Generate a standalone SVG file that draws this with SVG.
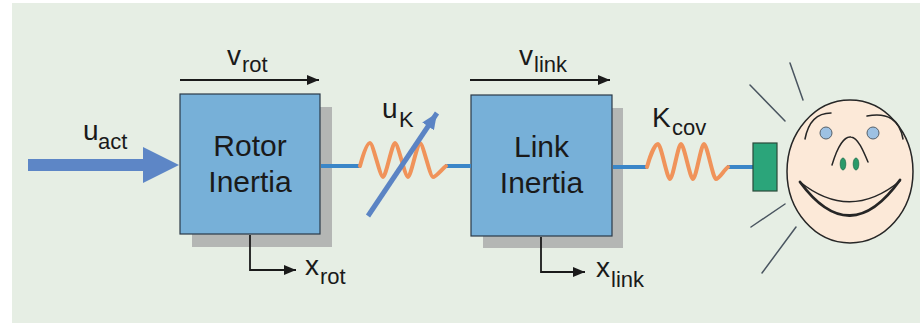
<svg xmlns="http://www.w3.org/2000/svg" width="920" height="323" viewBox="0 0 920 323">
  <style>
    .lbl { font-family: "Liberation Sans", Arial, sans-serif; fill: #1a1a1a; }
    .main { font-size: 28px; }
    .sub { font-size: 22px; }
    .blk { font-family: "Liberation Sans", Arial, sans-serif; font-size: 30px; fill: #1a1a1a; text-anchor: middle; }
    .box { fill: #77b0d8; stroke: #2b3a48; stroke-width: 1.2; }
    .shadow { fill: #b4b6b4; }
    .sig { fill: none; stroke: #1a1a1a; stroke-width: 1.8; marker-end: url(#tip); }
    .shaft { stroke: #3a86c8; stroke-width: 4; }
    .spring { fill: none; stroke: #f0935a; stroke-width: 4; stroke-linejoin: round; stroke-linecap: round; }
    .ray { stroke: #4a5560; stroke-width: 1.5; stroke-linecap: round; }
    .face { fill: none; stroke: #262626; stroke-linecap: round; }
  </style>
  <defs>
    <marker id="tip" viewBox="0 0 12 10" refX="12" refY="5" markerWidth="12" markerHeight="10" markerUnits="userSpaceOnUse" orient="auto">
      <path d="M0,0 L12,5 L0,10 z" fill="#1a1a1a"/>
    </marker>
    <marker id="tipBlue" viewBox="0 0 16 14" refX="16" refY="7" markerWidth="16" markerHeight="14" markerUnits="userSpaceOnUse" orient="auto">
      <path d="M0,0 L16,7 L0,14 z" fill="#5b84c4"/>
    </marker>
  </defs>

  <!-- backdrop -->
  <rect x="0" y="0" width="920" height="323" fill="#ffffff"/>
  <rect x="12" y="3" width="908" height="320" fill="#e6eee4"/>

  <!-- actuator input -->
  <g id="input">
    <polygon points="28,159 143,159 143,147 179,165 143,183 143,171 28,171" fill="#5d86c6"/>
    <text class="lbl"><tspan class="main" x="83" y="140">u</tspan><tspan class="sub" x="98" y="149">act</tspan></text>
  </g>

  <!-- rotor inertia -->
  <g id="rotor">
    <rect class="shadow" x="192" y="107" width="140" height="140"/>
    <rect class="box" x="180" y="94" width="140" height="140"/>
    <text class="blk" x="250" y="156">Rotor</text>
    <text class="blk" x="250" y="192">Inertia</text>
  </g>

  <!-- link inertia -->
  <g id="link">
    <rect class="shadow" x="483" y="108" width="140" height="140"/>
    <rect class="box" x="471" y="95" width="141" height="141"/>
    <text class="blk" x="541.5" y="157">Link</text>
    <text class="blk" x="541.5" y="193">Inertia</text>
  </g>

  <!-- connectors: shafts, springs, signal arrows -->
  <g id="connectors">
    <line class="shaft" x1="321" y1="166" x2="361" y2="166"/>
    <line class="shaft" x1="445" y1="166" x2="471" y2="166"/>
    <line class="shaft" x1="613" y1="167" x2="648" y2="167"/>
    <line class="shaft" x1="727" y1="167" x2="753" y2="167"/>

    <!-- variable joint stiffness -->
    <path class="spring" d="M360,166 C363,155 367,143 370,143 C373,143 380,177 383,177 C386,177 392,143 395,143 C398,143 405,177 408,177 C411,177 417,143 420,143 C423,143 430,177 433,177 C436,177 442,169 446,166"/>
    <line x1="368" y1="216" x2="437" y2="113" stroke="#5b84c4" stroke-width="5" marker-end="url(#tipBlue)"/>

    <!-- covering stiffness -->
    <path class="spring" d="M647,167 C650,156 655,144 658,144 C661,144 667,179 670,179 C673,179 678,144 681,144 C684,144 690,179 693,179 C696,179 701,144 704,144 C707,144 713,179 716,179 C719,179 724,170 728,167"/>

    <line class="sig" x1="180" y1="80" x2="319" y2="80"/>
    <line class="sig" x1="470" y1="80" x2="610" y2="80"/>
    <polyline class="sig" points="250,235 250,270 296,270"/>
    <polyline class="sig" points="541,237 541,272 585,272"/>
  </g>

  <!-- labels -->
  <g id="labels">
    <text class="lbl"><tspan class="main" x="227" y="65">v</tspan><tspan class="sub" x="242" y="72">rot</tspan></text>
    <text class="lbl"><tspan class="main" x="519" y="65">v</tspan><tspan class="sub" x="534" y="72">link</tspan></text>
    <text class="lbl"><tspan class="main" x="382" y="118">u</tspan><tspan class="sub" x="399" y="127">K</tspan></text>
    <text class="lbl"><tspan class="main" x="652" y="127">K</tspan><tspan class="sub" x="672" y="135">cov</tspan></text>
    <text class="lbl"><tspan class="main" x="305" y="275">x</tspan><tspan class="sub" x="320" y="284">rot</tspan></text>
    <text class="lbl"><tspan class="main" x="596" y="277">x</tspan><tspan class="sub" x="611" y="287">link</tspan></text>
  </g>

  <!-- contact pad -->
  <g id="pad">
    <rect x="753" y="143" width="24" height="48" fill="#2ba57a" stroke="#2a4a3a" stroke-width="1.2"/>
  </g>

  <!-- impact rays -->
  <g id="rays">
    <line class="ray" x1="790" y1="63" x2="803" y2="100"/>
    <line class="ray" x1="750" y1="85" x2="785" y2="121"/>
    <line class="ray" x1="751" y1="227" x2="785" y2="204"/>
    <line class="ray" x1="762" y1="273" x2="796" y2="227"/>
  </g>

  <!-- human face -->
  <g id="human">
    <ellipse cx="850" cy="171.5" rx="63" ry="71.5" fill="#fce9d8" stroke="#262626" stroke-width="1.5"/>
    <path class="face" stroke-width="1.5" d="M805,139 Q810,113 831,113"/>
    <path class="face" stroke-width="1.5" d="M867,116 Q898,110 903,139"/>
    <circle cx="826" cy="133" r="6" fill="#9dc1e3" stroke="#55606a" stroke-width="1"/>
    <circle cx="873" cy="133" r="6" fill="#9dc1e3" stroke="#55606a" stroke-width="1"/>
    <path class="face" stroke-width="1.5" d="M832,165 C838,145 845,136 851,137 C858,138 863,150 868,162"/>
    <ellipse cx="843" cy="164" rx="2.8" ry="6" fill="#2a9a6a" stroke="#1f6e4c" stroke-width="0.8"/>
    <ellipse cx="856" cy="164" rx="2.8" ry="6" fill="#2a9a6a" stroke="#1f6e4c" stroke-width="0.8"/>
    <path class="face" stroke-width="1.5" d="M800,182 Q850,222 900,181"/>
    <path class="face" stroke-width="2.8" d="M800,182 Q850,250 900,180"/>
  </g>
</svg>
